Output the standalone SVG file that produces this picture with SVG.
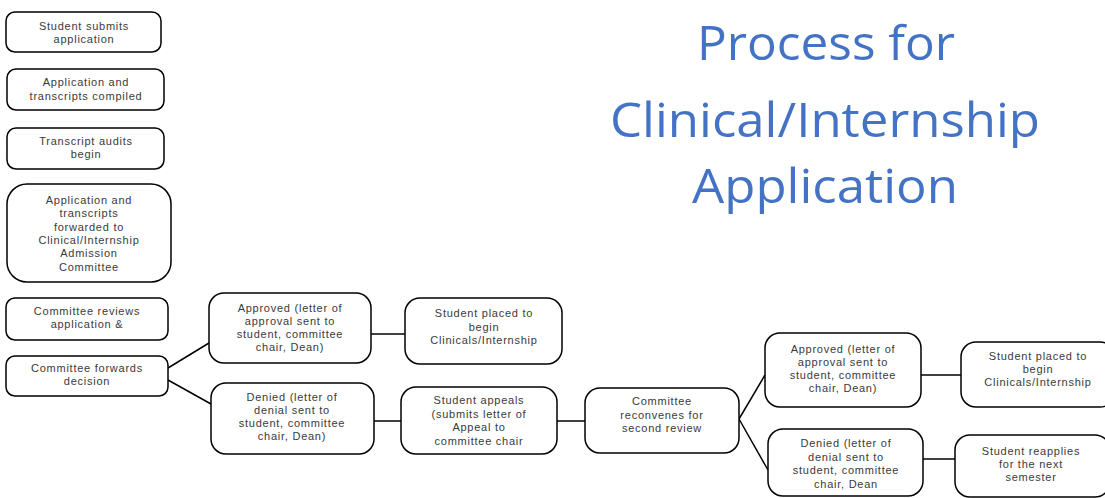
<svg xmlns="http://www.w3.org/2000/svg" width="1105" height="498" viewBox="0 0 1105 498">
<style>
.box{fill:#fff;stroke:#000;stroke-width:1.5}
.t{font-family:"Liberation Sans",Arial,sans-serif;font-size:11px;letter-spacing:0.75px;fill:#3a3a3a;text-anchor:middle;dominant-baseline:central}
.title{font-family:"Open Sans","Liberation Sans",sans-serif;font-size:47px;fill:#4472C4;text-anchor:middle}
.c{stroke:#000;stroke-width:1.5;fill:none}
</style>
<rect width="1105" height="498" fill="#fff"/>
<g id="title">
<text class="title" x="826" y="60" textLength="258" lengthAdjust="spacingAndGlyphs">Process for</text>
<text class="title" x="825" y="137" textLength="430" lengthAdjust="spacingAndGlyphs">Clinical/Internship</text>
<text class="title" x="825" y="203" textLength="266" lengthAdjust="spacingAndGlyphs">Application</text>
</g>
<g id="connectors">
<line class="c" x1="168" y1="368" x2="209" y2="343"/>
<line class="c" x1="168" y1="380" x2="211" y2="404"/>
<line class="c" x1="371" y1="334" x2="405" y2="334"/>
<line class="c" x1="374" y1="421" x2="401" y2="421"/>
<line class="c" x1="557" y1="421" x2="585" y2="421"/>
<line class="c" x1="739" y1="419" x2="765" y2="375"/>
<line class="c" x1="739" y1="419" x2="768" y2="470"/>
<line class="c" x1="921" y1="375" x2="961" y2="375"/>
<line class="c" x1="923" y1="459" x2="955" y2="459"/>
</g>
<g id="n1"><rect class="box" x="6" y="12" width="155" height="40" rx="9"/>
<text class="t" x="84" y="26">Student submits</text><text class="t" x="84" y="39">application</text></g>
<g id="n2"><rect class="box" x="7" y="69" width="157" height="41" rx="9"/>
<text class="t" x="86" y="82">Application and</text><text class="t" x="86" y="96">transcripts compiled</text></g>
<g id="n3"><rect class="box" x="7" y="128" width="157" height="41" rx="9"/>
<text class="t" x="86" y="141">Transcript audits</text><text class="t" x="86" y="154">begin</text></g>
<g id="n4"><rect class="box" x="7" y="184" width="164" height="98" rx="20"/>
<text class="t" x="89" y="200">Application and</text><text class="t" x="89" y="213">transcripts</text><text class="t" x="89" y="226.5">forwarded to</text><text class="t" x="89" y="240">Clinical/Internship</text><text class="t" x="89" y="253">Admission</text><text class="t" x="89" y="266.5">Committee</text></g>
<g id="n5"><rect class="box" x="6" y="298" width="162" height="42" rx="9"/>
<text class="t" x="87" y="311">Committee reviews</text><text class="t" x="87" y="324">application &amp;</text></g>
<g id="n6"><rect class="box" x="6" y="356" width="162" height="40" rx="9"/>
<text class="t" x="87" y="368">Committee forwards</text><text class="t" x="87" y="381">decision</text></g>
<g id="n7"><rect class="box" x="209" y="293" width="162" height="70" rx="15"/>
<text class="t" x="290" y="308">Approved (letter of</text><text class="t" x="290" y="321">approval sent to</text><text class="t" x="290" y="334">student, committee</text><text class="t" x="290" y="347">chair, Dean)</text></g>
<g id="n8"><rect class="box" x="211" y="383" width="163" height="71" rx="15"/>
<text class="t" x="292" y="397">Denied (letter of</text><text class="t" x="292" y="410">denial sent to</text><text class="t" x="292" y="423">student, committee</text><text class="t" x="292" y="436">chair, Dean)</text></g>
<g id="n9"><rect class="box" x="405" y="298" width="157" height="66" rx="15"/>
<text class="t" x="484" y="313">Student placed to</text><text class="t" x="484" y="326.5">begin</text><text class="t" x="484" y="340">Clinicals/Internship</text></g>
<g id="n10"><rect class="box" x="401" y="387" width="156" height="67" rx="15"/>
<text class="t" x="479" y="400">Student appeals</text><text class="t" x="479" y="413.5">(submits letter of</text><text class="t" x="479" y="427">Appeal to</text><text class="t" x="479" y="440.5">committee chair</text></g>
<g id="n11"><rect class="box" x="585" y="388" width="154" height="65" rx="15"/>
<text class="t" x="662" y="401">Committee</text><text class="t" x="662" y="414.5">reconvenes for</text><text class="t" x="662" y="428">second review</text></g>
<g id="n12"><rect class="box" x="765" y="333" width="156" height="74" rx="15"/>
<text class="t" x="843" y="349">Approved (letter of</text><text class="t" x="843" y="362">approval sent to</text><text class="t" x="843" y="375">student, committee</text><text class="t" x="843" y="388">chair, Dean)</text></g>
<g id="n13"><rect class="box" x="961" y="342" width="154" height="65" rx="15"/>
<text class="t" x="1038" y="355.5">Student placed to</text><text class="t" x="1038" y="368.5">begin</text><text class="t" x="1038" y="381.5">Clinicals/Internship</text></g>
<g id="n14"><rect class="box" x="768" y="429" width="155" height="67" rx="15"/>
<text class="t" x="846" y="443">Denied (letter of</text><text class="t" x="846" y="456.5">denial sent to</text><text class="t" x="846" y="470">student, committee</text><text class="t" x="846" y="483.5">chair, Dean</text></g>
<g id="n15"><rect class="box" x="955" y="435" width="155" height="62" rx="15"/>
<text class="t" x="1031" y="450.5">Student reapplies</text><text class="t" x="1031" y="463.5">for the next</text><text class="t" x="1031" y="476.5">semester</text></g>
</svg>
